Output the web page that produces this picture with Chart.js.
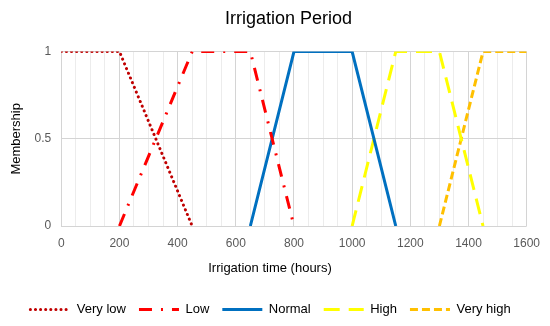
<!DOCTYPE html>
<html lang="en">
<head>
<meta charset="UTF-8">
<title>Irrigation Period</title>
<script src="https://cdn.jsdelivr.net/npm/chart.js"></script>
<style>
  body { margin: 0; background: #fff; }
</style>
</head>
<body>
<canvas id="myChart" width="550" height="326"></canvas>
<script>
// membership function breakpoints
const seriesNames = ['Very low', 'Low', 'Normal', 'High', 'Very high'];
const veryLowX = [0, 200, 450];
const veryLowY = [1, 1, 0];
const lowX = [200, 450, 650, 800];
const lowY = [0, 1, 1, 0];
const normalX = [650, 800, 1000, 1150];
const normalY = [0, 1, 1, 0];
const highX = [1000, 1150, 1300, 1450];
const highY = [0, 1, 1, 0];
const veryHighX = [1300, 1450, 1600];
const veryHighY = [0, 1, 1];
const xTicks = [0, 200, 400, 600, 800, 1000, 1200, 1400, 1600];
const yTicks = [0, 0.5, 1];
const xTitle = 'Irrigation time (hours)';

const pts = (xs, ys) => xs.map((x, i) => ({ x: x, y: ys[i] }));

const styles = [
  { color: '#C00000', dash: [0.1, 5], cap: 'round', width: 3 },
  { color: '#FF0000', dash: [13, 9, 2, 9], cap: 'butt', width: 3 },
  { color: '#0070C0', dash: [], cap: 'butt', width: 3 },
  { color: '#FFFF00', dash: [16, 9], cap: 'butt', width: 3 },
  { color: '#FFC000', dash: [8, 4], cap: 'butt', width: 3 }
];
const allData = [
  pts(veryLowX, veryLowY),
  pts(lowX, lowY),
  pts(normalX, normalY),
  pts(highX, highY),
  pts(veryHighX, veryHighY)
];

// the original has its chart title and x axis title a bit off the plot centre
const nudgeTitles = {
  id: 'nudgeTitles',
  afterLayout(chart) {
    if (chart.titleBlock) chart.titleBlock.left += 36;
  },
  afterDraw(chart) {
    const sc = chart.scales.x;
    const c = chart.ctx;
    c.save();
    c.fillStyle = '#000';
    c.font = '13px "Liberation Sans"';
    c.textAlign = 'center';
    c.textBaseline = 'middle';
    c.fillText(xTitle, 270, sc.bottom - 14 - 8);
    c.restore();
  }
};

const ctx = document.getElementById('myChart').getContext('2d');
new Chart(ctx, {
  type: 'scatter',
  data: {
    datasets: seriesNames.map((name, i) => ({
      label: name,
      data: allData[i],
      showLine: true,
      borderColor: styles[i].color,
      backgroundColor: styles[i].color,
      borderWidth: styles[i].width,
      borderDash: styles[i].dash,
      borderCapStyle: styles[i].cap,
      pointRadius: 0,
      pointHoverRadius: 0,
      tension: 0
    }))
  },
  plugins: [nudgeTitles],
  options: {
    responsive: false,
    animation: false,
    layout: { padding: { left: 9, right: 18, top: 4, bottom: 0 } },
    plugins: {
      title: {
        display: true,
        text: 'Irrigation Period',
        color: '#000',
        font: { family: 'Liberation Sans', size: 18, weight: 'normal' },
        padding: { top: 4, bottom: 22 }
      },
      legend: {
        position: 'bottom',
        labels: {
          usePointStyle: true,
          pointStyle: 'line',
          pointStyleWidth: 40,
          boxHeight: 12,
          padding: 13,
          color: '#000',
          font: { family: 'Liberation Sans', size: 13 },
          generateLabels: (chart) => chart.data.datasets.map((ds, i) => ({
            text: ds.label,
            strokeStyle: styles[i].color,
            fillStyle: styles[i].color,
            lineWidth: 3,
            lineDash: styles[i].dash,
            lineCap: styles[i].cap,
            pointStyle: 'line',
            datasetIndex: i,
            hidden: false
          }))
        }
      },
      tooltip: { enabled: false }
    },
    scales: {
      x: {
        type: 'linear',
        min: 0,
        max: 1600,
        afterBuildTicks: (axis) => {
          const t = [];
          for (let v = 0; v <= 1600; v += 50) t.push({ value: v });
          axis.ticks = t;
        },
        ticks: {
          autoSkip: false,
          maxRotation: 0,
          color: '#595959',
          font: { family: 'Liberation Sans', size: 12 },
          padding: 10,
          callback: (v) => xTicks.includes(v) ? String(v) : ''
        },
        grid: {
          color: (c) => (c.tick && c.tick.value % 200 === 0) ? '#d4d4d4' : '#ececec',
          lineWidth: 1,
          drawTicks: false
        },
        border: { display: false },
        title: {
          display: true,
          text: xTitle,
          color: 'rgba(0,0,0,0)',
          font: { family: 'Liberation Sans', size: 13 },
          padding: { top: 0, bottom: 14 }
        }
      },
      y: {
        min: 0,
        max: 1,
        afterBuildTicks: (axis) => { axis.ticks = yTicks.map(v => ({ value: v })); },
        ticks: {
          color: '#595959',
          font: { family: 'Liberation Sans', size: 12 },
          padding: 10,
          callback: (v) => String(v)
        },
        grid: { color: '#d4d4d4', drawTicks: false },
        border: { display: false },
        title: {
          display: true,
          text: 'Membership',
          color: '#000',
          font: { family: 'Liberation Sans', size: 13 },
          padding: { top: 0, bottom: 0 }
        }
      }
    }
  }
});
</script>
</body>
</html>
